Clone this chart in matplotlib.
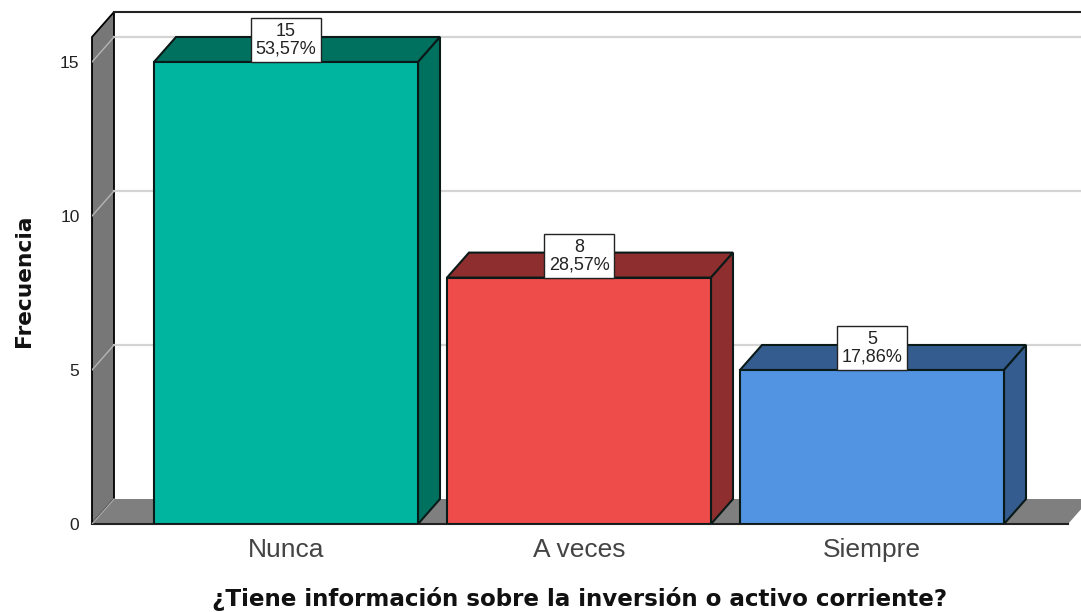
import matplotlib
matplotlib.use('Agg')
import matplotlib.pyplot as plt
from matplotlib.patches import Polygon, Rectangle

plt.rcParams['font.family'] = ['Liberation Sans', 'DejaVu Sans']

categories = ['Nunca', 'A veces', 'Siempre']
counts = [15, 8, 5]
percents = ['53,57%', '28,57%', '17,86%']
y_ticks = [0, 5, 10, 15]
front_colors = ['#00B5A0', '#EE4B4B', '#5294E2']
side_colors = ['#00705F', '#8E2E2E', '#355C8F']
x_title = '¿Tiene información sobre la inversión o activo corriente?'
y_title = 'Frecuencia'

W, H = 1081, 612
fig = plt.figure(figsize=(W / 100, H / 100), dpi=100)
# ejes colocados a mano sobre el pixel del suelo frontal
ax = fig.add_axes([92 / W, (H - 524) / H, (W - 92) / W, 512 / H])
px_x = 293.0   # pixeles por categoria
px_y = 30.8    # pixeles por unidad
ax.set_xlim((92 - 286) / px_x, (W - 286) / px_x)
ax.set_ylim(0, 512 / px_y)
for s in ax.spines.values():
    s.set_visible(False)

dx = 22 / px_x
dy = 25 / px_y
x0, x1 = ax.get_xlim()
y1 = ax.get_ylim()[1]
wall_top = y1 - dy
floor_end = x1 - 13 / px_x

# pared izquierda y suelo
ax.add_patch(Polygon([(x0, 0), (x0 + dx, dy), (x0 + dx, y1), (x0, wall_top)],
                     fc='#777777', ec='black', lw=1.3, zorder=1, clip_on=False))
ax.add_patch(Polygon([(x0, 0), (x0 + dx, dy), (floor_end + dx, dy), (floor_end, 0)],
                     fc='#7F7F7F', ec='none', zorder=1))
ax.plot([x0, floor_end], [0, 0], color='#222222', lw=1.5, zorder=2, clip_on=False)
ax.plot([x0 + dx, x1], [y1, y1], color='#222222', lw=1.5, zorder=2, clip_on=False)
ax.plot([x0, x0 + dx], [0, dy], color='#A8A8A8', lw=1, zorder=2)

# rejilla
for t in y_ticks[1:]:
    ax.plot([x0 + dx, x1], [t + dy, t + dy], color='#D4D4D4', lw=1.6, zorder=2, clip_on=False)
    ax.plot([x0, x0 + dx], [t, t + dy], color='#B5B5B5', lw=1, zorder=2)

# barras
bar_w = 264 / px_x
for i, v in enumerate(counts):
    left = i - bar_w / 2
    right = i + bar_w / 2
    ax.bar(i, v, width=bar_w, color=front_colors[i], edgecolor='#0A1A18', linewidth=1.5, zorder=4)
    ax.add_patch(Polygon([(left, v), (left + dx, v + dy), (right + dx, v + dy), (right, v)],
                         fc=side_colors[i], ec='#0A1A18', lw=1.5, zorder=3))
    ax.add_patch(Polygon([(right, 0), (right + dx, dy), (right + dx, v + dy), (right, v)],
                         fc=side_colors[i], ec='#0A1A18', lw=1.5, zorder=3))
    # etiqueta de valor
    ax.add_patch(Rectangle((i - 35 / px_x, v), 70 / px_x, 44 / px_y, fc='white',
                           ec='#222222', lw=1, zorder=5, clip_on=False))
    ax.text(i, v + 30 / px_y, str(v), ha='center', va='center', fontsize=13,
            color='#222222', zorder=6)
    ax.text(i, v + 13 / px_y, percents[i], ha='center', va='center', fontsize=13,
            color='#222222', zorder=6)

ax.set_xticks(range(len(categories)))
ax.set_xticklabels(categories, fontsize=19, color='#444444')
ax.set_yticks(y_ticks)
ax.set_yticklabels([str(t) for t in y_ticks], fontsize=12.5, color='#222222')
ax.tick_params(axis='x', length=0, pad=10)
ax.tick_params(axis='y', length=0, pad=9)

fig.text(580 / W, 1 - 599 / H, x_title, ha='center', va='center', fontsize=16.6,
         fontweight='bold', color='#111111', family='DejaVu Sans')
fig.text(24 / W, 1 - 281 / H, y_title, ha='center', va='center', rotation=90,
         fontsize=15.7, fontweight='bold', color='#111111', family='DejaVu Sans')

fig.savefig('out.png', dpi=100)
